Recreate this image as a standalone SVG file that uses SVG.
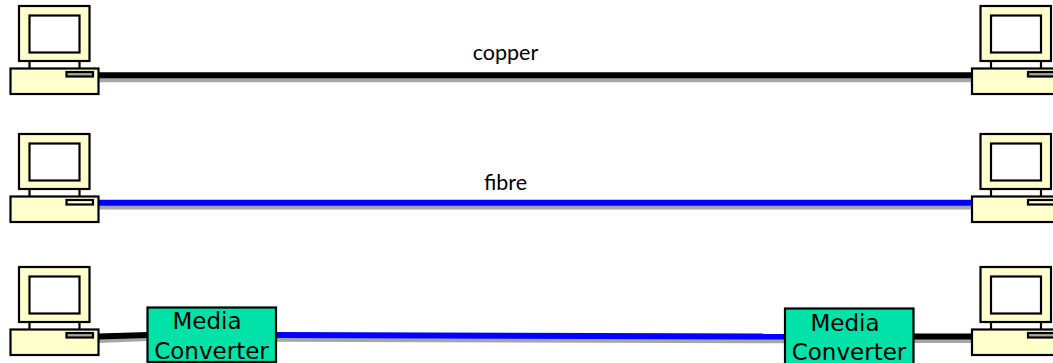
<svg xmlns="http://www.w3.org/2000/svg" width="1053" height="363" viewBox="0 0 1053 363">
<style>
.s{fill:none;stroke:#a6a6a6;stroke-width:6}
.k{fill:none;stroke:#000;stroke-width:6}
.b{fill:none;stroke:#0000ff;stroke-width:6}
.p{fill:#ffffcc;stroke:#000;stroke-width:2.2}
.w{fill:#fff;stroke:#000;stroke-width:2.2}
.slot{fill:currentColor;stroke:#000;stroke-width:2.2}
.grey{color:#a8a8a0}
.pale{color:#fdfde8}
.t{font-family:Lato,Carlito,"Liberation Sans",sans-serif;font-size:21.5px;fill:#000;text-anchor:middle}
.m{font-family:"DejaVu Sans",Verdana,sans-serif;font-size:23px;fill:#000;text-anchor:middle}
.c{fill:#00e2a8;stroke:#000;stroke-width:2.2}
</style>
<defs>
<g id="pc">
<path d="M29.500 61V68.500M79.500 61V68.500" fill="none" stroke="#000" stroke-width="2.200"/>
<rect class="p" x="19" y="6" width="70.500" height="55"/>
<rect class="w" x="29.500" y="15.500" width="50" height="37"/>
<rect class="p" x="10.500" y="68.500" width="88" height="25.500"/>
<rect class="slot" x="66.500" y="72" width="26.500" height="4.500"/>
</g>
</defs>
<g id="connectors">
<path class="s" d="M98 79.300H972"/>
<path class="k" d="M98 75.300H972"/>
<path class="s" d="M98 206.500H972"/>
<path class="b" d="M98 202.700H972"/>
<path class="s" d="M98 340L148 338M276 338.700L785 340.300M913 340H972"/>
<path class="k" d="M98 336.600L148 335"/>
<path class="b" d="M276 335L785 336.500"/>
<path class="k" d="M913 336.500H972"/>
</g>
<g id="pc-top-left" class="grey"><use href="#pc"/></g>
<g id="pc-top-right" class="grey"><use href="#pc" x="961.500"/></g>
<g id="pc-mid-left" class="pale"><use href="#pc" y="128"/></g>
<g id="pc-mid-right" class="pale"><use href="#pc" x="961.500" y="128"/></g>
<g id="pc-bottom-left" class="grey"><use href="#pc" y="261"/></g>
<g id="pc-bottom-right" class="grey"><use href="#pc" x="961.500" y="261"/></g>
<g id="label-copper"><text class="t" x="505.500" y="60">copper</text></g>
<g id="label-fibre"><text class="t" x="505.500" y="190">fibre</text></g>
<g id="converter-left">
<rect class="c" x="147.500" y="307.500" width="128.500" height="54.500"/>
<text class="m" x="207" y="329">Media</text>
<text class="m" x="211.500" y="359">Converter</text>
</g>
<g id="converter-right">
<rect class="c" x="785" y="308.500" width="128.500" height="56"/>
<text class="m" x="845" y="331">Media</text>
<text class="m" x="849" y="359.500">Converter</text>
</g>
</svg>
